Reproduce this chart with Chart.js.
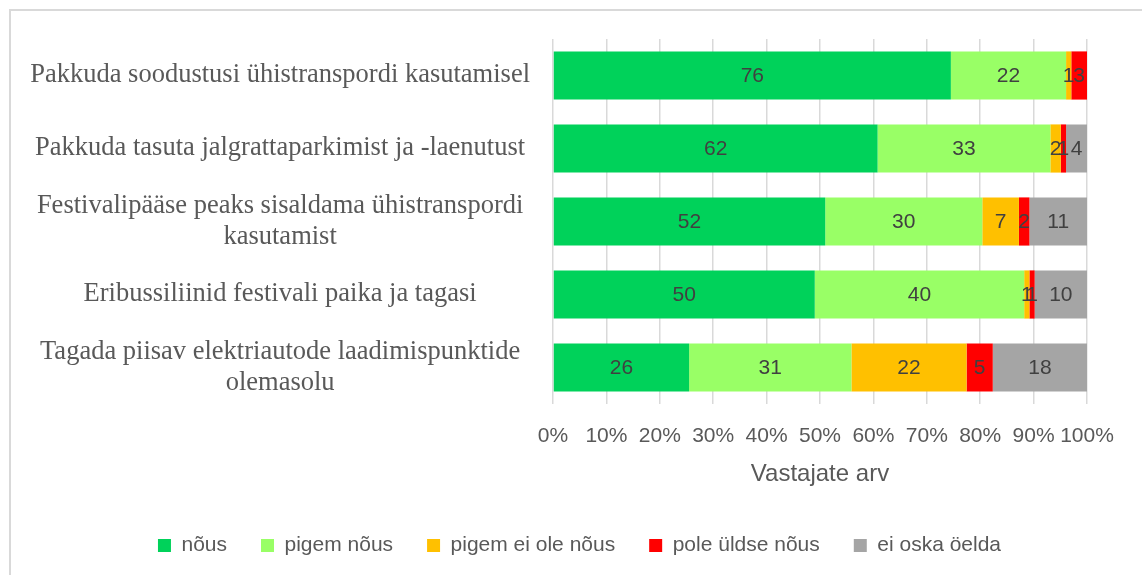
<!DOCTYPE html>
<html><head><meta charset="utf-8">
<script src="https://cdn.jsdelivr.net/npm/chart.js@4"></script>
<style>
html,body{margin:0;padding:0;background:#fff;}
#frame{position:absolute;left:9px;top:9px;width:1140px;height:570px;border:2px solid #d9d9d9;box-sizing:border-box;}
#wrap{position:absolute;left:0;top:0;width:1142px;height:575px;}
</style></head>
<body>
<div id="frame"></div>
<div id="wrap"><canvas id="c" width="1142" height="575"></canvas></div>
<script>
const categories = [
  "Pakkuda soodustusi ühistranspordi kasutamisel",
  "Pakkuda tasuta jalgrattaparkimist ja -laenutust",
  ["Festivalipääse peaks sisaldama ühistranspordi", "kasutamist"],
  "Eribussiliinid festivali paika ja tagasi",
  ["Tagada piisav elektriautode laadimispunktide", "olemasolu"]
];
const seriesNames = ["nõus", "pigem nõus", "pigem ei ole nõus", "pole üldse nõus", "ei oska öelda"];
const nous        = [76, 62, 52, 50, 26];
const pigemNous   = [22, 33, 30, 40, 31];
const pigemEiOle  = [1, 2, 7, 1, 22];
const poleYldse   = [3, 1, 2, 1, 5];
const eiOska      = [0, 4, 11, 10, 18];
const xTicks = ["0%","10%","20%","30%","40%","50%","60%","70%","80%","90%","100%"];
const colors = ["#00D25A", "#99FF66", "#FFC000", "#FF0000", "#A5A5A5"];

const raw = [nous, pigemNous, pigemEiOle, poleYldse, eiOska];
const totals = categories.map((_, i) => raw.reduce((s, arr) => s + arr[i], 0));

const datasets = raw.map((arr, k) => ({
  label: seriesNames[k],
  data: arr.map((v, i) => v / totals[i] * 100),
  raw: arr,
  backgroundColor: colors[k],
  borderWidth: 0,
  barPercentage: 0.66,
  categoryPercentage: 1.0
}));

const SANS = '"Liberation Sans", Arial, sans-serif';

const labelPlugin = {
  id: 'valLabels',
  afterLayout(chart) {
    const lg = chart.legend;
    if (lg) { lg.left += 36; lg.right += 36; }
  },
  afterDatasetsDraw(chart) {
    const ctx = chart.ctx;
    ctx.save();
    ctx.font = '21px ' + SANS;
    ctx.fillStyle = '#404040';
    ctx.textAlign = 'center';
    ctx.textBaseline = 'middle';
    chart.data.datasets.forEach((ds, di) => {
      const meta = chart.getDatasetMeta(di);
      meta.data.forEach((el, i) => {
        const v = ds.raw[i];
        if (!v) return;
        const p = el.getCenterPoint();
        ctx.fillText(String(v), p.x, p.y + 1);
      });
    });
    ctx.restore();
  }
};

new Chart(document.getElementById('c'), {
  type: 'bar',
  data: { labels: categories, datasets },
  plugins: [labelPlugin],
  options: {
    indexAxis: 'y',
    responsive: false,
    animation: false,
    devicePixelRatio: 1,
    layout: { padding: { top: 39, right: 55, bottom: 9, left: 0 } },
    scales: {
      x: {
        stacked: true,
        min: 0, max: 100,
        afterFit: (s) => { s.paddingLeft = 0; s.paddingRight = 0; s.height -= 20; },
        ticks: {
          stepSize: 10,
          padding: 20,
          maxRotation: 0, minRotation: 0, autoSkip: false,
          color: '#595959',
          font: { size: 21, family: SANS },
          callback: (v, i) => xTicks[i]
        },
        grid: { color: '#d9d9d9', lineWidth: 1.5, drawTicks: false },
        border: { display: false },
        title: {
          display: true, text: 'Vastajate arv', color: '#595959',
          font: { size: 24, family: SANS },
          padding: { top: 11, bottom: 12 }
        }
      },
      y: {
        stacked: true,
        afterFit: (s) => { s.width = 553; s.paddingTop = 0; s.paddingBottom = 0; },
        ticks: {
          crossAlign: 'center',
          padding: 23,
          color: '#595959',
          font: { size: 26.5, family: '"Liberation Serif", "Times New Roman", serif', lineHeight: 1.2 }
        },
        grid: { display: false, drawTicks: false },
        border: { display: false }
      }
    },
    plugins: {
      legend: {
        position: 'bottom',
        labels: {
          boxWidth: 13, boxHeight: 13, padding: 34,
          color: '#595959',
          font: { size: 21, family: SANS }
        }
      },
      tooltip: { enabled: false }
    }
  }
});
</script>
</body></html>
